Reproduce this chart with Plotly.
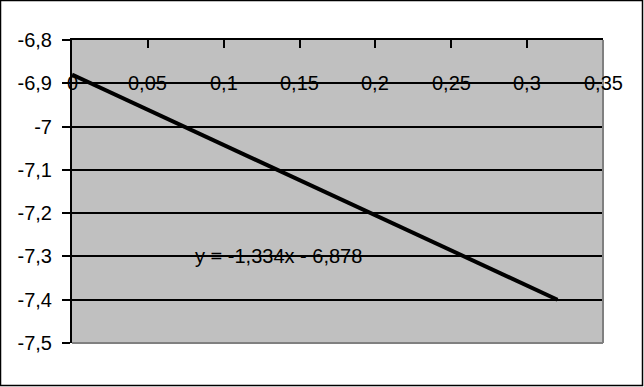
import plotly.graph_objects as go

# Data
line_x = [0.0, 0.32]
line_y = [-6.88, -7.40]

x_ticks = [0, 0.05, 0.1, 0.15, 0.2, 0.25, 0.3, 0.35]
x_tick_labels = ["0", "0,05", "0,1", "0,15", "0,2", "0,25", "0,3", "0,35"]
y_ticks = [-7.5, -7.4, -7.3, -7.2, -7.1, -7.0, -6.9, -6.8]
y_tick_labels = ["-7,5", "-7,4", "-7,3", "-7,2", "-7,1", "-7", "-6,9", "-6,8"]

x_label_row = -6.9
equation_text = "y = -1,334x - 6,878"
equation_pos = (0.1358, -7.3)

FONT = "Arial, Liberation Sans, sans-serif"
FS = 20
W, H = 644, 387
L, R, T, B = 72, 41, 40, 44
PW, PH = W - L - R, H - T - B

fig = go.Figure()
fig.add_trace(go.Scatter(x=line_x, y=line_y, mode="lines",
                         line=dict(color="black", width=4), showlegend=False,
                         hoverinfo="skip"))

annotations = []
for xv, lab in zip(x_ticks, x_tick_labels):
    annotations.append(dict(x=xv, y=x_label_row, xref="x", yref="y", text=lab,
                            showarrow=False, xanchor="center", yanchor="middle",
                            font=dict(family=FONT, size=FS, color="black")))
annotations.append(dict(x=equation_pos[0], y=equation_pos[1], xref="x", yref="y",
                        text=equation_text, showarrow=False, xanchor="center",
                        yanchor="middle", font=dict(family=FONT, size=FS, color="black")))

shapes = [
    # gray right and bottom plot border
    dict(type="line", xref="paper", yref="paper", x0=1, x1=1, y0=0, y1=1,
         line=dict(color="#808080", width=2), layer="above"),
    dict(type="line", xref="paper", yref="paper", x0=0, x1=1, y0=0, y1=0,
         line=dict(color="#808080", width=2), layer="above"),
    # figure border
    dict(type="rect", xref="paper", yref="paper",
         x0=(0.5 - L) / PW, x1=(W - 1.5 - L) / PW,
         y0=(PH + T - (H - 1.5)) / PH, y1=(PH + T - 0.5) / PH,
         line=dict(color="black", width=1.5), fillcolor="rgba(0,0,0,0)", layer="above"),
]

fig.update_layout(
    width=W, height=H,
    margin=dict(l=L, r=R, t=T, b=B, pad=0),
    paper_bgcolor="white", plot_bgcolor="#C0C0C0",
    font=dict(family=FONT, size=FS, color="black"),
    annotations=annotations, shapes=shapes, showlegend=False,
    xaxis=dict(range=[0, 0.35], side="top", tickvals=x_ticks, showticklabels=False,
               ticks="inside", ticklen=8, tickwidth=2, tickcolor="black",
               showline=True, linecolor="black", linewidth=2,
               showgrid=False, zeroline=False, fixedrange=True),
    yaxis=dict(range=[-7.5, -6.8], tickvals=y_ticks, ticktext=y_tick_labels,
               ticks="outside", ticklen=8, tickwidth=2, tickcolor="black",
               showline=True, linecolor="black", linewidth=2,
               showgrid=True, gridcolor="black", gridwidth=2,
               zeroline=False, fixedrange=True, ticklabelstandoff=6),
)

fig.write_html("out.html")
